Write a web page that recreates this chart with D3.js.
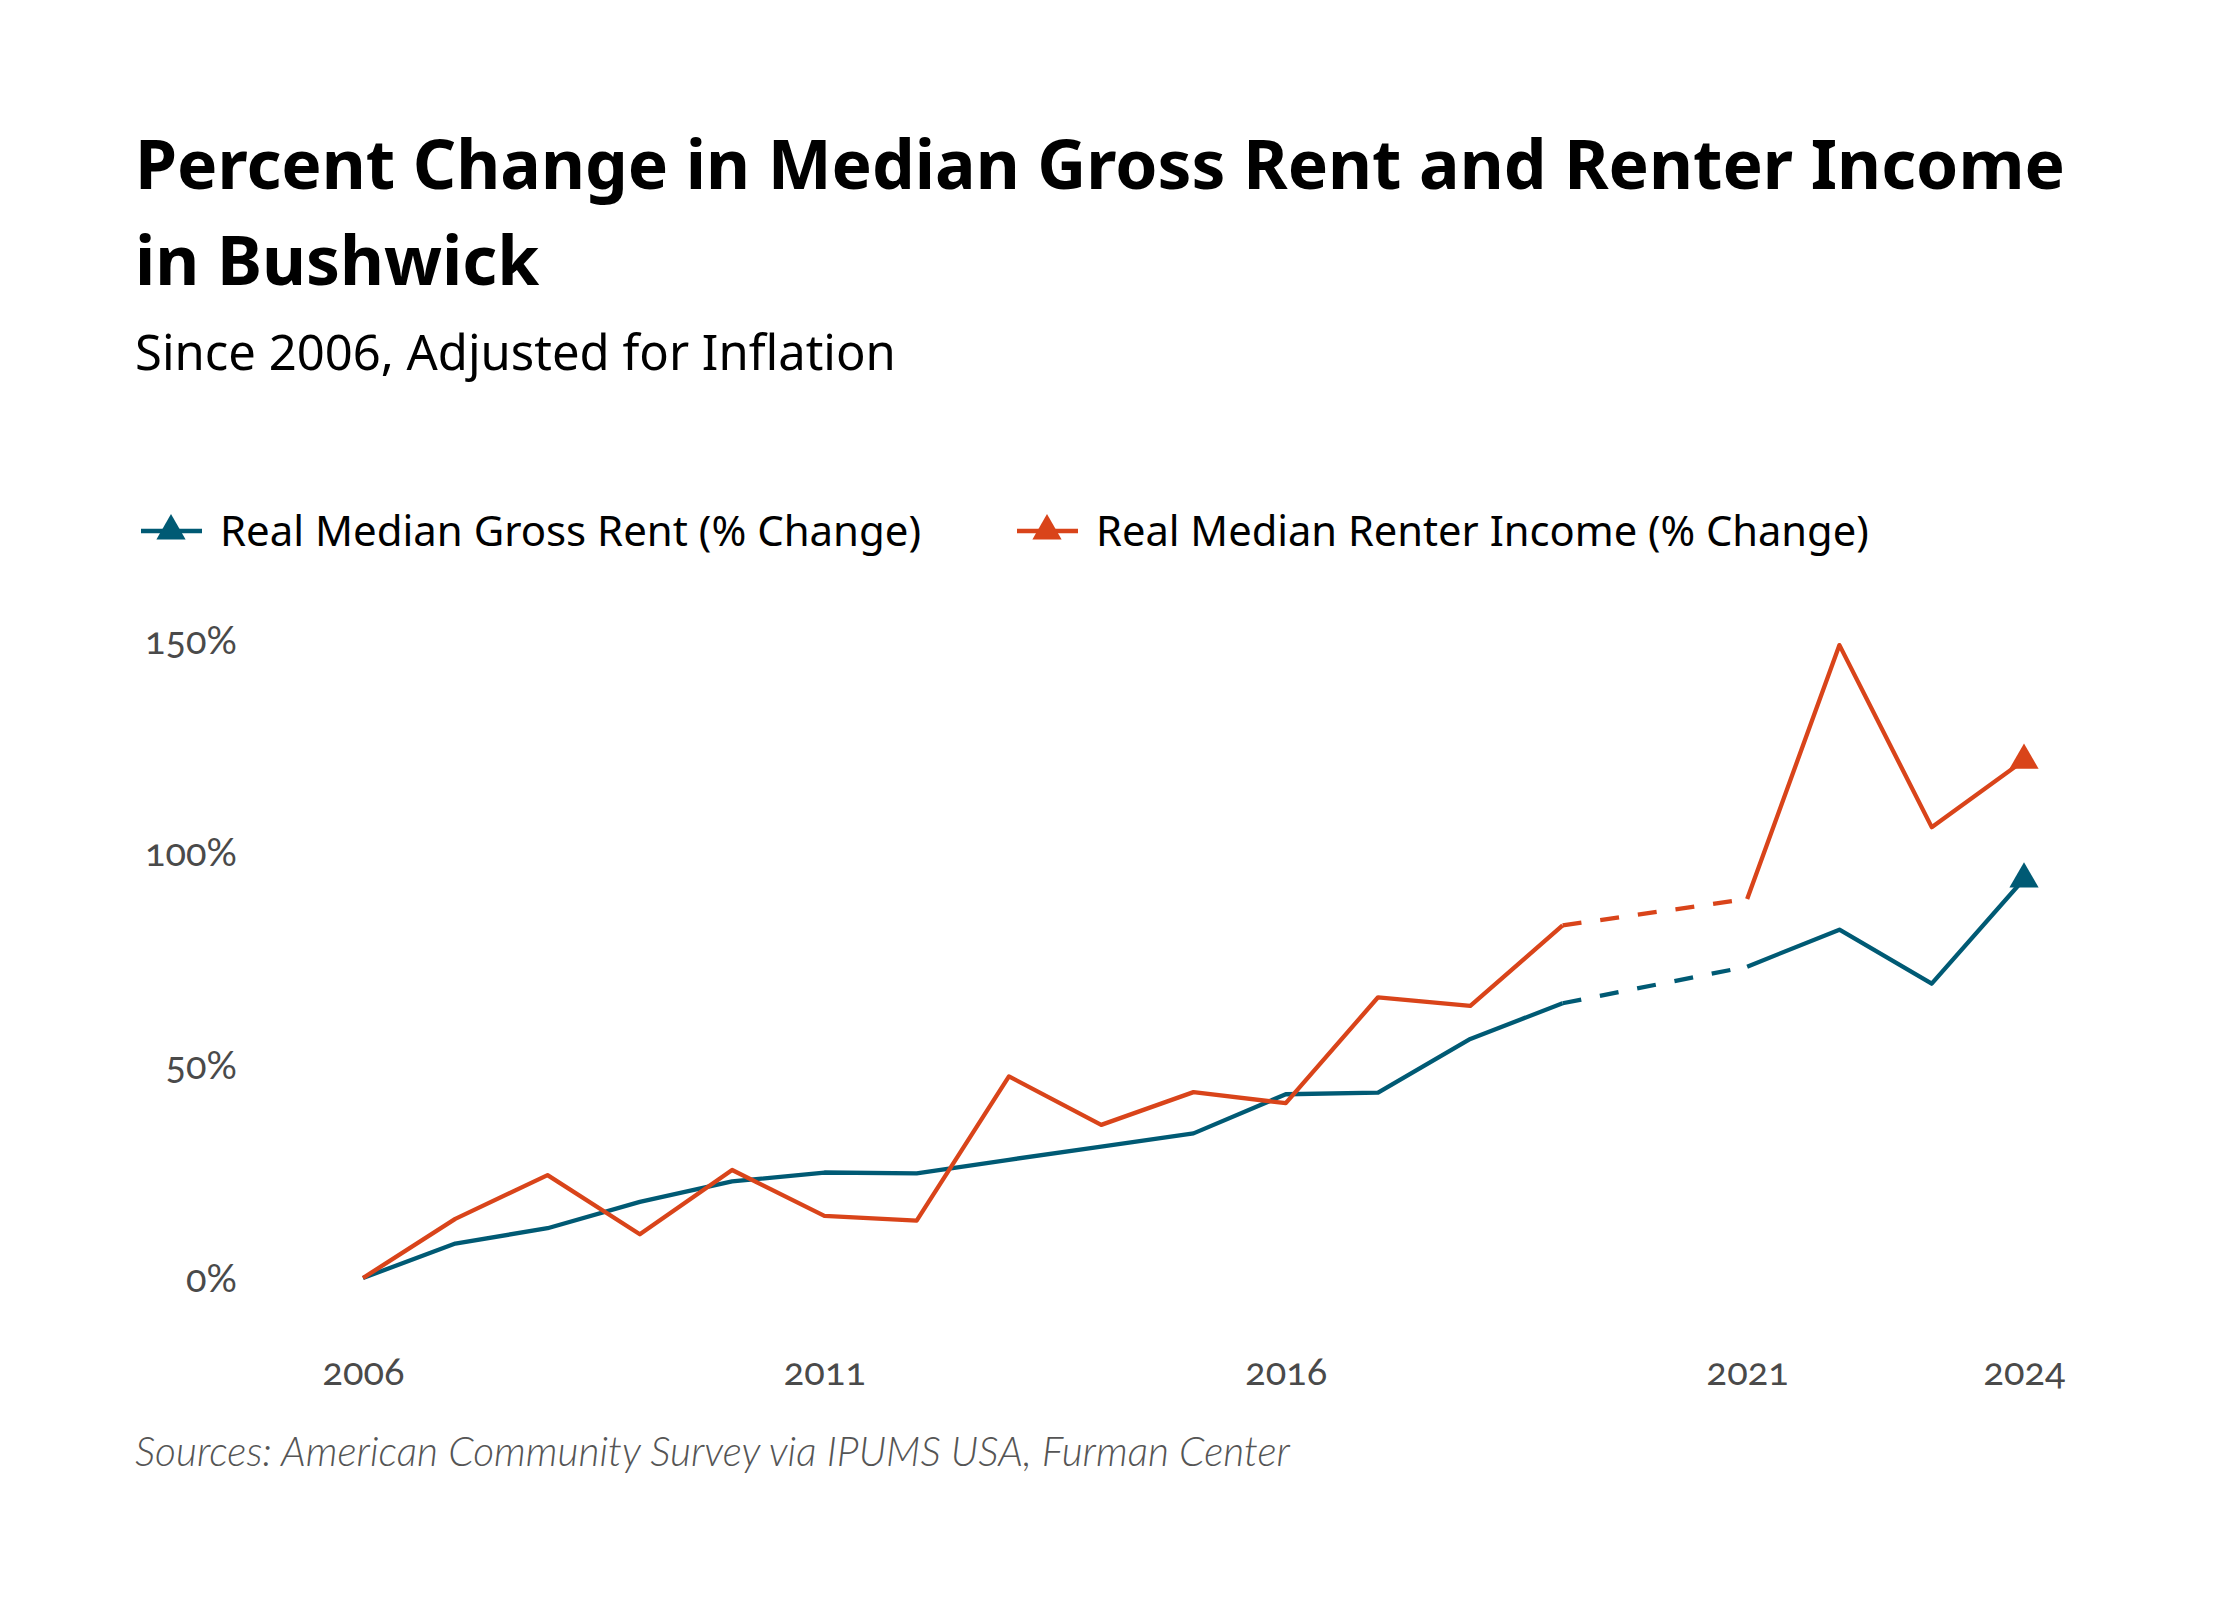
<!DOCTYPE html>
<html>
<head>
<meta charset="utf-8" />
<title>Bushwick rent and income</title>
<script src="https://cdn.jsdelivr.net/npm/d3@7"></script>
<style>
  body { margin: 0; background: #fff; }
  .tick text { font-family: Lato, "Noto Sans", sans-serif; font-variant-numeric: oldstyle-nums; fill: #4a4a4a; }
</style>
</head>
<body>
<svg id="chart" width="2240" height="1600"></svg>
<script>
// data (percent change since 2006, inflation adjusted)
// 2020 has no ACS 1-year estimate, so it is null and bridged with a dashed line
var years = [2006, 2007, 2008, 2009, 2010, 2011, 2012, 2013, 2014, 2015,
             2016, 2017, 2018, 2019, 2020, 2021, 2022, 2023, 2024];
var rentChange = [0, 8.1, 11.7, 17.9, 22.7, 24.8, 24.6, 27.8, 30.9, 34.0,
                  43.2, 43.6, 56.2, 64.6, null, 73.2, 81.9, 69.2, 93.8];
var incomeChange = [0, 13.9, 24.2, 10.3, 25.4, 14.6, 13.5, 47.4, 36.0, 43.7,
                    41.1, 66.0, 64.0, 82.9, null, 89.1, 148.8, 106.0, 121.7];
var seriesNames = ["Real Median Gross Rent (% Change)", "Real Median Renter Income (% Change)"];
var seriesColors = ["#005a74", "#d9441a"];
var xTicks = [2006, 2011, 2016, 2021, 2024];
var yTicks = [0, 50, 100, 150];

var titleLines = ["Percent Change in Median Gross Rent and Renter Income", "in Bushwick"];
var subtitle = "Since 2006, Adjusted for Inflation";
var source = "Sources: American Community Survey via IPUMS USA, Furman Center";

var svg = d3.select("#chart");

// set font size so the text spans the wanted width
function fitWidth(sel, w) {
    var fs = parseFloat(sel.attr("font-size"));
    var cur = sel.node().getComputedTextLength();
    sel.attr("font-size", (fs * w / cur).toFixed(2));
    return sel;
}

// titles
var t1 = svg.append("text").attr("x", 135).attr("y", 189)
    .attr("font-family", "'Noto Sans', sans-serif").attr("font-weight", 700)
    .attr("font-size", 64).attr("fill", "#000").text(titleLines[0]);
fitWidth(t1, 1930);
svg.append("text").attr("x", 135).attr("y", 285)
    .attr("font-family", "'Noto Sans', sans-serif").attr("font-weight", 700)
    .attr("font-size", t1.attr("font-size")).attr("fill", "#000").text(titleLines[1]);

var st = svg.append("text").attr("x", 135).attr("y", 370)
    .attr("font-family", "'Noto Sans', sans-serif").attr("font-size", 40)
    .attr("fill", "#000").text(subtitle);
fitWidth(st, 761);

// legend
var legendX = [141, 1017];
var legendW = [701, 773];
var tri = d3.symbol().type(d3.symbolTriangle).size(370);

seriesNames.forEach(function(name, i) {
    var g = svg.append("g").attr("transform", "translate(" + legendX[i] + ",531)");
    g.append("line").attr("x1", 0).attr("x2", 61).attr("y1", 0).attr("y2", 0)
        .attr("stroke", seriesColors[i]).attr("stroke-width", 4.5);
    g.append("path").attr("d", tri).attr("transform", "translate(30,0)")
        .attr("fill", seriesColors[i]);
    var lt = g.append("text").attr("x", 79).attr("y", 0).attr("dy", "0.36em")
        .attr("font-family", "'Noto Sans', sans-serif").attr("font-size", 38)
        .attr("fill", "#000").text(name);
    fitWidth(lt, legendW[i]);
});

// scales
var x = d3.scaleLinear().domain([2006, 2024]).range([363, 2024]);
var y = d3.scaleLinear().domain([0, 150]).range([1278, 640]);

// axes, labels only
var yAxis = svg.append("g").attr("transform", "translate(237,1)")
    .call(d3.axisLeft(y).tickValues(yTicks).tickSize(0).tickPadding(0)
        .tickFormat(function(d) { return d + "%"; }));
yAxis.select(".domain").remove();
yAxis.selectAll("text").attr("font-size", 38);

var xAxis = svg.append("g").attr("transform", "translate(0,1358)")
    .call(d3.axisBottom(x).tickValues(xTicks).tickSize(0).tickPadding(0)
        .tickFormat(d3.format("d")));
xAxis.select(".domain").remove();
xAxis.selectAll("text").attr("font-size", 38);

// lines
var allSeries = [rentChange, incomeChange];
var line = d3.line()
    .defined(function(d) { return d.v != null; })
    .x(function(d) { return x(d.year); })
    .y(function(d) { return y(d.v); });

allSeries.forEach(function(vals, i) {
    var pts = years.map(function(yr, k) { return { year: yr, v: vals[k] }; });

    // dashed bridge over missing years
    var valid = pts.filter(function(d) { return d.v != null; });
    for (var k = 1; k < valid.length; k++) {
        if (valid[k].year - valid[k - 1].year > 1) {
            svg.append("path").datum([valid[k - 1], valid[k]])
                .attr("d", line).attr("fill", "none")
                .attr("stroke", seriesColors[i]).attr("stroke-width", 4.3)
                .attr("stroke-dasharray", "19,19");
        }
    }

    svg.append("path").datum(pts)
        .attr("d", line).attr("fill", "none")
        .attr("stroke", seriesColors[i]).attr("stroke-width", 4.3)
        .attr("stroke-linejoin", "round");

    var last = valid[valid.length - 1];
    svg.append("path").attr("d", tri)
        .attr("transform", "translate(" + x(last.year) + "," + y(last.v) + ")")
        .attr("fill", seriesColors[i]);
});

// source note
var src = svg.append("text").attr("x", 135).attr("y", 1466)
    .attr("font-family", "Lato, sans-serif").attr("font-style", "italic")
    .attr("font-weight", 300).attr("font-size", 38)
    .attr("fill", "#555").text(source);
fitWidth(src, 1155);
</script>
</body>
</html>
